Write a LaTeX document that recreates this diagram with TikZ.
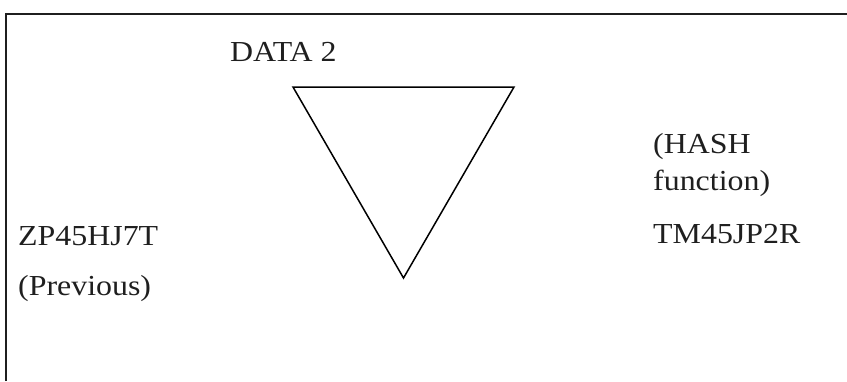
\documentclass[tikz,border=0pt]{standalone}
\usepackage{fontspec}
\setmainfont[FakeStretch=1.1]{Liberation Serif}
\usepackage{tikz}
\usetikzlibrary{positioning}

\begin{document}
\begin{tikzpicture}[
  x=1pt, y=-1pt,
  font=\fontsize{29}{36}\selectfont,
  lbl/.style={anchor=base west, inner sep=0pt, text=black!88},
  frame/.style={line width=2.4pt, color=black!88},
  tri/.style={line width=1.5pt},
]
\useasboundingbox (0,0) rectangle (847,381);
% frame (left and top edges only)
\coordinate (fb) at (6,381);
\coordinate (fc) at (6,14);
\coordinate (fr) at (847,14);
\draw[frame] (fb) -- (fc) -- (fr);

% triangle
\coordinate (t1) at (293,87);
\coordinate (t2) at (514,87);
\coordinate (t3) at (403.5,278);
\draw[tri, line join=miter] (t1) -- (t2) -- (t3) -- cycle;

\node[lbl] (data) at (230,61) {DATA 2};
\node[lbl] (prev) at (18,245) {ZP45HJ7T};
\node[lbl] (prevlbl) at (18,295) {(Previous)};
\node[lbl] (hash) at (653,153) {(HASH};
\node[lbl] (func) at (653,190) {function)};
\node[lbl] (next) at (653,243) {TM45JP2R};
\end{tikzpicture}
\end{document}
